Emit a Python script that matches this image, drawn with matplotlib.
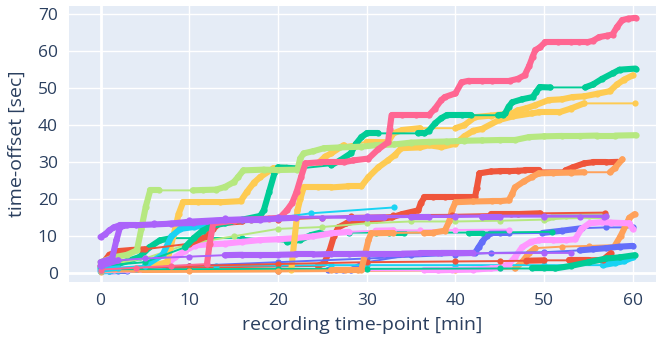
import numpy as np
import matplotlib.pyplot as plt

plt.rcParams['font.family'] = ['Open Sans', 'DejaVu Sans']

# plotly default colour cycle
colors = ['#636EFA', '#EF553B', '#00CC96', '#AB63FA', '#FFA15A',
          '#19D3F3', '#FF6692', '#B6E880', '#FF97FF', '#FECB52']

# each recording: (time [min], offset [sec])
blue_low = [(0, 0.5), (1, 0.5), (2, 0.6), (3, 0.6), (20, 0.6), (25.6, 0.8), (26.5, 0.8), (27.3, 0.8),
            (28.2, 0.8), (30, 3), (35, 5), (38.4, 5.4), (40, 5.4), (42.2, 5.5), (42.6, 7), (43, 8.5),
            (43.5, 10), (44, 10.8), (45, 10.8), (46, 10.8), (49.8, 10.9), (52, 11.5), (54.3, 12.2),
            (57, 12.4), (60, 12.4)]
red_step = [(0, 1), (10, 1.5), (24.5, 2), (25.2, 2.7), (25.8, 6), (26.3, 10), (26.8, 12.4), (27.7, 13.5),
            (28.6, 14), (29.6, 14.3), (31, 14.5), (32.8, 15.1), (34, 16), (35.8, 17), (36.1, 19), (36.5, 20.5),
            (37.5, 20.5), (38.8, 20.5), (40.3, 20.5), (42.2, 20.5), (42.4, 23), (42.7, 27), (44, 27.5),
            (45, 27.6), (46, 27.6), (47, 27.7), (47.8, 27.8), (49.4, 27.8), (52.4, 27.8), (53.2, 28.6),
            (54.5, 29.7), (55.5, 30), (57, 30), (58.3, 30.1)]
green_big = [(0, 2), (5, 3), (9.5, 7), (10.5, 9.5), (11.5, 11.5), (12.5, 12.8), (14, 13.5), (16, 14.5),
             (18, 15.5), (18.4, 17), (19, 22), (19.6, 27), (20, 28.6), (21, 28.5), (22.3, 28.3), (26, 29.2),
             (27, 30.5), (28.2, 32.4), (28.8, 35), (29.4, 36.8), (30, 37.8), (31.3, 37.8), (35.8, 37.8),
             (36.5, 37.8), (37, 38.5), (37.7, 40.5), (38.4, 41.9), (39, 42.7), (40.7, 42.7), (41.8, 42.7),
             (44.8, 42.7), (45.4, 42.8), (45.6, 43.2), (46, 45), (46.4, 46.2), (47.5, 47), (48.7, 47.6),
             (49.1, 49), (49.5, 50.3), (50.7, 50.2), (54.6, 50.2), (55.5, 51), (56.5, 52.5), (57.7, 54),
             (58.5, 55), (60.3, 55.3)]
purple_top = [(0, 9.8), (0.5, 10.5), (1, 11.6), (1.5, 12.4), (2.2, 13), (4, 13), (6, 13.2), (8, 13.4),
              (10.4, 13.6), (12, 14), (14, 14.3), (16, 14.5), (18, 14.5), (20, 14.8), (22, 15), (25, 15),
              (28, 15), (30, 15), (32, 15.1), (35, 15.2), (37, 15.2), (40, 15.2), (43, 15.3), (45, 15.3),
              (50, 15.3), (54, 15.3), (56.7, 15.2)]
orange_step = [(0, 0.5), (10, 0.6), (20, 0.7), (26, 0.8), (27.5, 0.8), (29, 0.8), (29.4, 1), (29.8, 5),
               (30.2, 9), (30.5, 10.8), (33, 10.9), (36.5, 11), (37.5, 11), (38.8, 11.5), (39.3, 14),
               (39.6, 17), (40, 19.2), (42, 19.4), (44.1, 19.5), (45, 19.5), (46, 19.7), (46.4, 21.5),
               (46.7, 23.2), (47.7, 24.8), (48.6, 26), (49.4, 27), (51, 27.1), (53, 27.2), (54.5, 27.3),
               (57.4, 27.3), (58, 28.5), (58.8, 30.8)]
cyan_short = [(0, 1), (2, 1.5), (5, 2), (7, 5), (8, 10), (9, 12), (10.5, 12.5), (12, 13), (14.5, 14),
              (17, 14.5), (20, 15), (23.7, 16.2), (33.1, 17.8)]
pink_big = [(0, 1), (4, 1.5), (8, 2), (12, 2.5), (12.3, 8), (12.7, 13.5), (15, 14.2), (17, 14.5), (19, 14.8),
            (20.2, 15), (21, 17), (21.6, 19), (22.1, 22), (22.6, 26), (23.1, 29.7), (24.8, 30),
            (27.4, 30), (28.5, 30.5), (30.2, 31), (31.3, 33.5), (32.4, 35.4), (32.6, 39), (32.8, 42.7),
            (34, 42.7), (35.5, 42.7), (37, 42.7), (37.7, 44.5), (38.4, 46.8), (38.8, 47.6), (40, 48.6),
            (40.7, 51.6), (41.5, 52), (43, 52), (44.1, 52), (46.1, 52), (47, 52.5), (47.8, 53.5), (48.3, 56),
            (48.7, 58.5), (49, 60.3), (49.5, 61), (50.1, 62.4), (51.5, 62.4), (53, 62.4), (53.9, 62.4),
            (54.8, 62.4), (55.5, 62.8), (56.2, 63.8), (57.1, 64.2), (57.7, 64.5), (58.2, 66.5), (58.8, 68.4),
            (59.5, 68.8), (60.3, 69)]
lgreen_big = [(0, 3), (1.4, 4.3), (3, 5), (4.1, 6.2), (4.6, 12), (5.1, 18), (5.6, 22.4), (6.6, 22.4),
              (10.4, 22.4), (11.5, 22.5), (13, 22.6), (14, 23.3), (15, 24.6), (15.5, 26), (16.1, 27.8),
              (18.4, 28), (20, 27.9), (22.2, 28), (22.5, 31), (22.9, 32.4), (24, 33), (25.2, 33.8), (27, 34),
              (29.4, 34.2), (31, 34.6), (33.1, 34.8), (35, 35.3), (37, 35.5), (39, 35.6), (41, 35.8),
              (43, 35.9), (45, 36), (46.7, 36), (48.3, 36.8), (50, 37), (52, 37.1), (54, 37.1), (56, 37.2),
              (58, 37.2), (60.3, 37.3)]
pink_mid = [(0, 1), (36.5, 0.8), (38, 0.8), (39.6, 0.9), (42, 1), (44, 1.3), (45, 1.5), (46, 2.5),
            (46.7, 4.3), (47.5, 7), (48.5, 8.5), (49.4, 8.9), (51, 8.9), (52.5, 9), (53.5, 9.2), (54.2, 12),
            (55.1, 13.5), (56.5, 13.8), (57.5, 13.7), (59.6, 13.5), (60, 11.9)]
yellow_big = [(0, 1), (5, 1.5), (7.5, 3), (8.2, 10), (8.8, 16), (9.3, 19.2), (11, 19.2), (13.5, 19.2),
              (15.8, 19.5), (16.5, 22), (17.3, 24.5), (18, 26), (19.5, 28.4), (21, 28.5), (24.5, 29.7),
              (25.3, 31.5), (26, 32.4), (27.4, 34.6), (30, 35.5), (32.4, 35.4), (33, 37.8), (34, 38.7),
              (36, 39.2), (40, 39.2), (41, 40), (42.2, 42.2), (44, 42.6), (46.4, 43.2), (47, 44), (48, 44.6),
              (49, 45.4), (50.5, 46.8), (52, 47), (53.2, 47.6), (54.5, 47.8), (56, 48.5), (57.4, 49.2),
              (58.2, 51), (59, 52.3), (60, 53.5)]
yellow_mid = [(0, 0.5), (10, 0.8), (21.5, 1), (22.2, 17), (22.5, 20), (22.9, 23.2), (24.5, 23.2), (26, 23.2),
              (27.9, 23.5), (29.4, 23.5), (30.2, 26), (31.3, 28.6), (32.4, 30.5), (33.2, 32), (33.9, 33.8),
              (36, 34), (37, 34.6), (38.4, 34.1), (40, 35), (41, 37), (42, 38.5), (43, 39), (44.9, 41.4),
              (46.5, 42.4), (48.6, 43.2), (49.4, 43.5), (51.7, 43.5), (53, 44.5), (54.5, 45.9), (60.2, 45.9)]
blue_mid = [(0, 1), (10, 2), (20, 3), (30, 4), (40, 5), (44, 5.5), (50, 5.7), (54, 6.2), (55.5, 6.5),
            (57, 6.8), (58.5, 7.2), (60, 7.4)]
red_mid = [(0, 2), (1, 5), (2, 6), (3.5, 6.3), (5, 6.5), (10, 8), (12, 10), (12.7, 12), (13.4, 13.5),
           (16, 14), (20, 14.5), (25, 15), (28.2, 15.5), (33, 15.7), (39.6, 15.8), (44, 16), (46.3, 16),
           (47, 16), (49.5, 16.2), (56.9, 16.4)]
green_mid = [(0, 1.5), (2, 2.5), (4.4, 4.4), (5.5, 7), (6.7, 8.9), (8, 9.5), (12, 9.5), (16, 9.6),
             (21, 8.5), (22.5, 9), (23.7, 10.3), (24.8, 11), (28, 11), (31, 11), (32.5, 11), (34.2, 11),
             (41.5, 11), (43, 11), (50.9, 11.2)]
purple_mid = [(0, 3), (1.3, 4), (1.8, 9), (2.2, 12.5), (3, 13), (6, 13.5), (10, 14.5), (14, 15), (20, 15.2),
              (30, 15.5), (40, 15.6), (50, 15.6), (57, 15.6)]
orange_late = [(0, 0.3), (20, 0.5), (40, 0.8), (46.7, 1.3), (47.5, 3), (48.3, 5.5), (49, 6.8), (52, 7.2),
               (55, 7.4), (58, 7.6), (58.6, 10), (59.2, 13), (59.6, 15), (60.2, 16)]
cyan_low = [(0, 0.5), (1, 0.6), (2, 0.8), (3, 1), (4, 1.2), (5, 1.5), (6, 1.8), (7, 2), (10, 2), (13, 2.1),
            (20, 2.1), (26, 2.2), (30, 2.2), (40, 2.2), (50, 2.2), (56.6, 2.2), (58, 2.8), (59, 3.3), (60, 4.3)]
pink_low = [(0, 0.8), (1.5, 0.9), (3, 1), (4.5, 1.2), (6, 1.6), (7.5, 2.5), (8.4, 4.3), (9.5, 6), (10.6, 7.5),
            (12, 7.8), (14, 8), (16, 8.5), (18, 9), (20, 9.2), (22, 9.5), (24, 10), (26, 10.8), (28, 11.2),
            (31, 11.5), (33, 11.6), (36, 11.6), (40, 11.7), (46, 11.8)]
lgreen_mid = [(0, 2), (5, 4), (10, 8), (15, 10), (20, 12), (25, 12.5), (30, 13.5), (35, 14), (40, 14),
              (45, 14.2), (50, 14.5), (51, 15.2), (52.5, 15.4), (55, 15.5), (57, 15.5)]
purple_low = [(0, 2), (2, 3.5), (5, 4), (10, 4.5), (14, 4.9), (16, 5), (18, 5), (20, 5), (22, 5.1), (24, 5.1),
              (26, 5.2), (28, 5.2), (30, 5.3), (32, 5.3), (34, 5.3), (36, 5.4), (38, 5.4), (40, 5.4),
              (42, 5.4), (50, 5.5), (53, 5.5)]
red_low = [(0, 1), (10, 2), (20, 2.5), (30, 3), (40, 3.2), (45, 3.3), (48, 3.4), (50, 3.5), (52.8, 3.5),
           (54, 3.5), (55, 3.5), (56.6, 3.6), (57.5, 5.4)]
green_low = [(0, 1), (20, 1.2), (30, 1.2), (45, 1.3), (48.6, 1.3), (50, 1.3), (51.2, 1.3), (53, 2), (55, 3),
             (57, 4), (58.5, 4.3), (60.2, 4.9)]

# drawing order, later ones end up on top
series = [blue_low, red_step, green_mid, orange_late, cyan_low, pink_low, lgreen_mid, pink_mid,
          yellow_big, yellow_mid, blue_mid, red_low, green_low, orange_step, cyan_short, red_mid,
          green_big, lgreen_big, pink_big, purple_low, purple_mid, purple_top]
series_colors = [colors[0], colors[1], colors[2], colors[4], colors[5], colors[8], colors[7], colors[8],
                 colors[9], colors[9], colors[0], colors[1], colors[2], colors[4], colors[5], colors[1],
                 colors[2], colors[7], colors[6], colors[3], colors[3], colors[3]]

fig = plt.figure(figsize=(6.61, 3.37), dpi=100)
ax = fig.add_axes([69 / 661, 55 / 337, 587 / 661, 276 / 337])
ax.set_facecolor('#E5ECF6')

for pts, c in zip(series, series_colors):
    t = np.array([p[0] for p in pts])
    v = np.array([p[1] for p in pts])
    ax.plot(t, v, color=c, lw=1.4, zorder=3)
    # densely sampled stretches look like a thick band
    for i in range(len(t) - 1):
        if t[i + 1] - t[i] < 2.6:
            ax.plot(t[i:i + 2], v[i:i + 2], color=c, lw=4.4, solid_capstyle='round', zorder=3)
    ax.plot(t, v, 'o', color=c, ms=4.5, mec='none', zorder=3)

ax.set_xlim(-3.55, 62.6)
ax.set_ylim(-2.35, 72.2)
ax.set_xticks(range(0, 61, 10))
ax.set_yticks(range(0, 71, 10))
ax.grid(color='white', lw=1)
ax.set_axisbelow(True)
ax.axhline(0, color='white', lw=2, zorder=1)
ax.axvline(0, color='white', lw=2, zorder=1)
for s in ax.spines.values():
    s.set_visible(False)
ax.tick_params(length=0, labelsize=12.5, labelcolor='#2a3f5f', pad=8)
ax.set_xlabel('recording time-point [min]', fontsize=14, color='#2a3f5f', labelpad=5)
ax.set_ylabel('time-offset [sec]', fontsize=14, color='#2a3f5f', labelpad=9)

fig.savefig('out.png', dpi=100, facecolor='white')
